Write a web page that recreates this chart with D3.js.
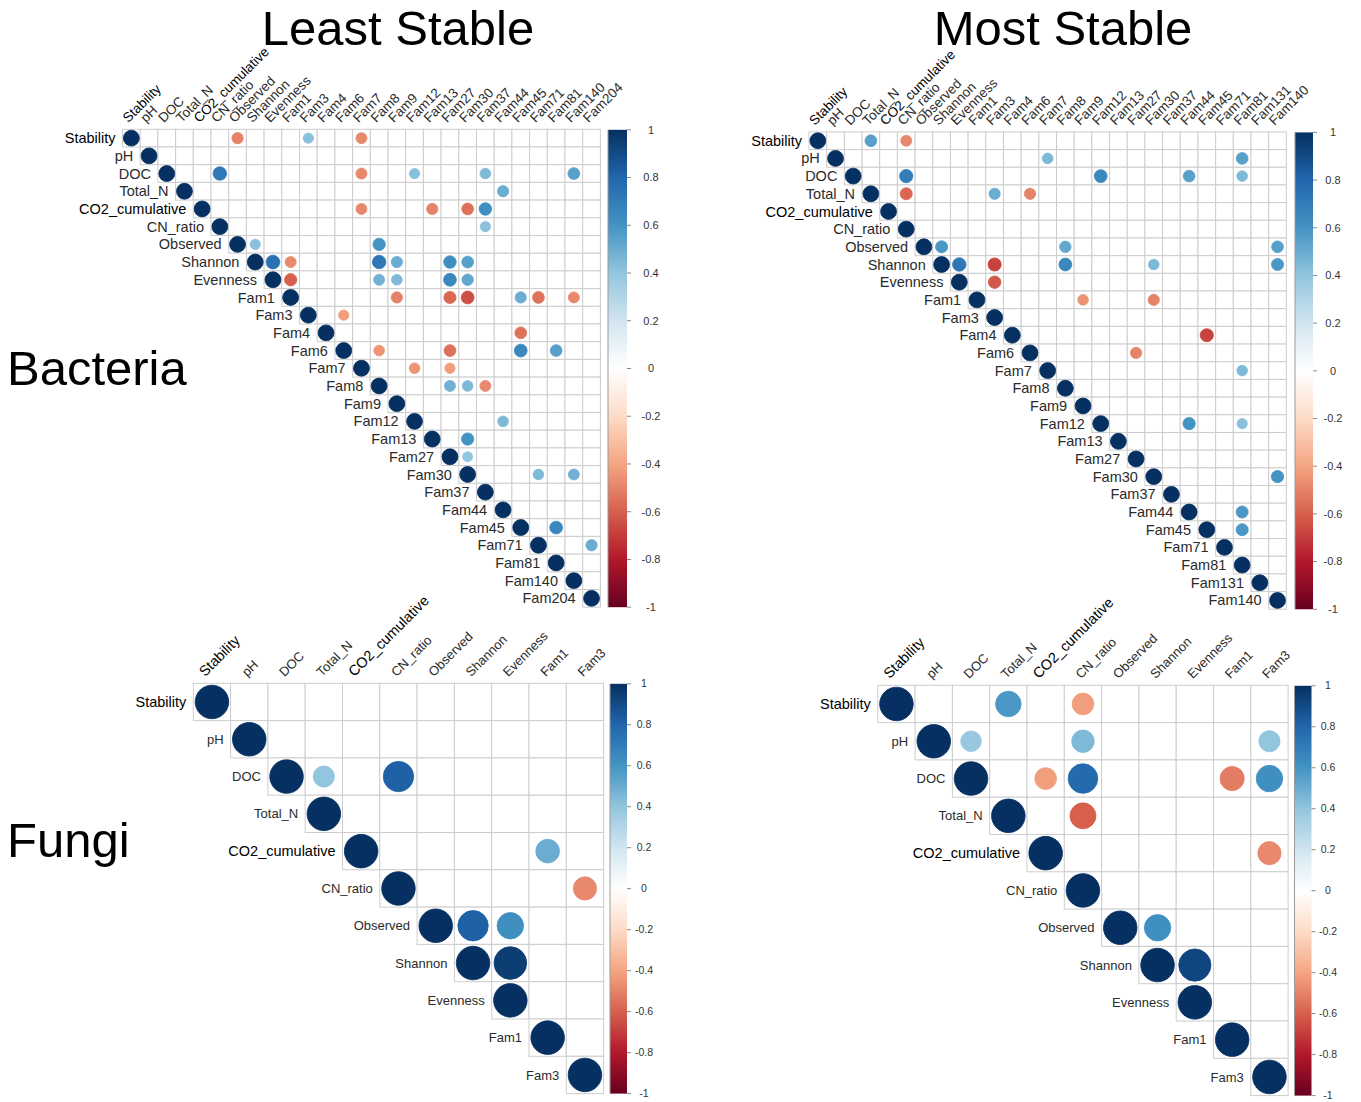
<!DOCTYPE html>
<html>
<head>
<meta charset="utf-8">
<script src="https://cdn.jsdelivr.net/npm/d3@7"></script>
<style>
  body { margin: 0; background: #fff; }
  svg { display: block; }
  text { font-family: "Liberation Sans", Arial, sans-serif; }
</style>
</head>
<body>
<svg id="chart" width="1361" height="1102"></svg>
<script>
// ---- variables shown on each matrix ----
const bacteriaLeastVars = ["Stability","pH","DOC","Total_N","CO2_cumulative","CN_ratio","Observed","Shannon","Evenness",
  "Fam1","Fam3","Fam4","Fam6","Fam7","Fam8","Fam9","Fam12","Fam13","Fam27","Fam30","Fam37","Fam44","Fam45","Fam71","Fam81","Fam140","Fam204"];
const bacteriaMostVars = ["Stability","pH","DOC","Total_N","CO2_cumulative","CN_ratio","Observed","Shannon","Evenness",
  "Fam1","Fam3","Fam4","Fam6","Fam7","Fam8","Fam9","Fam12","Fam13","Fam27","Fam30","Fam37","Fam44","Fam45","Fam71","Fam81","Fam131","Fam140"];
const fungiVars = ["Stability","pH","DOC","Total_N","CO2_cumulative","CN_ratio","Observed","Shannon","Evenness","Fam1","Fam3"];

// ---- significant pairwise correlations (upper triangle; blanks are non-significant) ----
const bacteriaLeastCor = [
  ["Stability","Observed",-0.5], ["Stability","Fam3",0.42], ["Stability","Fam7",-0.48],
  ["DOC","CN_ratio",0.72], ["DOC","Fam7",-0.48], ["DOC","Fam12",0.42], ["DOC","Fam37",0.45], ["DOC","Fam140",0.55],
  ["Total_N","Fam44",0.5],
  ["CO2_cumulative","Fam7",-0.48], ["CO2_cumulative","Fam13",-0.5], ["CO2_cumulative","Fam30",-0.55], ["CO2_cumulative","Fam37",0.62],
  ["CN_ratio","Fam37",0.42],
  ["Observed","Shannon",0.42], ["Observed","Fam8",0.6],
  ["Shannon","Evenness",0.75], ["Shannon","Fam1",-0.48], ["Shannon","Fam8",0.72], ["Shannon","Fam9",0.5],
  ["Shannon","Fam27",0.62], ["Shannon","Fam30",0.55],
  ["Evenness","Fam1",-0.6], ["Evenness","Fam8",0.48], ["Evenness","Fam9",0.45], ["Evenness","Fam27",0.65], ["Evenness","Fam30",0.52],
  ["Fam1","Fam9",-0.5], ["Fam1","Fam27",-0.58], ["Fam1","Fam30",-0.65], ["Fam1","Fam45",0.5], ["Fam1","Fam71",-0.55], ["Fam1","Fam140",-0.48],
  ["Fam3","Fam6",-0.42],
  ["Fam4","Fam45",-0.55],
  ["Fam6","Fam8",-0.45], ["Fam6","Fam27",-0.55], ["Fam6","Fam45",0.65], ["Fam6","Fam81",0.55],
  ["Fam7","Fam12",-0.45], ["Fam7","Fam27",-0.42],
  ["Fam8","Fam27",0.48], ["Fam8","Fam30",0.45], ["Fam8","Fam37",-0.48],
  ["Fam12","Fam44",0.45],
  ["Fam13","Fam30",0.6],
  ["Fam27","Fam30",0.4],
  ["Fam30","Fam71",0.45], ["Fam30","Fam140",0.48],
  ["Fam45","Fam81",0.65],
  ["Fam71","Fam204",0.5]
];
const bacteriaMostCor = [
  ["Stability","Total_N",0.55], ["Stability","CN_ratio",-0.48],
  ["pH","Fam7",0.45], ["pH","Fam81",0.55],
  ["DOC","CN_ratio",0.7], ["DOC","Fam12",0.65], ["DOC","Fam44",0.55], ["DOC","Fam81",0.45],
  ["Total_N","CN_ratio",-0.58], ["Total_N","Fam3",0.5], ["Total_N","Fam6",-0.5],
  ["Observed","Shannon",0.58], ["Observed","Fam8",0.52], ["Observed","Fam140",0.55],
  ["Shannon","Evenness",0.72], ["Shannon","Fam3",-0.68], ["Shannon","Fam8",0.65], ["Shannon","Fam30",0.45], ["Shannon","Fam140",0.58],
  ["Evenness","Fam3",-0.62],
  ["Fam1","Fam9",-0.45], ["Fam1","Fam30",-0.5],
  ["Fam4","Fam45",-0.68],
  ["Fam6","Fam27",-0.5],
  ["Fam7","Fam81",0.45],
  ["Fam12","Fam44",0.6], ["Fam12","Fam81",0.42],
  ["Fam30","Fam140",0.6],
  ["Fam44","Fam81",0.58],
  ["Fam45","Fam81",0.58]
];
const fungiLeastCor = [
  ["DOC","Total_N",0.4], ["DOC","CN_ratio",0.82],
  ["CO2_cumulative","Fam1",0.5],
  ["CN_ratio","Fam3",-0.48],
  ["Observed","Shannon",0.82], ["Observed","Evenness",0.62],
  ["Shannon","Evenness",0.95]
];
const fungiMostCor = [
  ["Stability","Total_N",0.58], ["Stability","CN_ratio",-0.42],
  ["pH","DOC",0.38], ["pH","CN_ratio",0.45], ["pH","Fam3",0.4],
  ["DOC","CO2_cumulative",-0.42], ["DOC","CN_ratio",0.78], ["DOC","Fam1",-0.52], ["DOC","Fam3",0.62],
  ["Total_N","CN_ratio",-0.6],
  ["CO2_cumulative","Fam3",-0.48],
  ["Observed","Shannon",0.62],
  ["Shannon","Evenness",0.92]
];

// ---- colour legend ----
const corrColours = ["#67001F","#B2182B","#D6604D","#F4A582","#FDDBC7","#FFFFFF","#D1E5F0","#92C5DE","#4393C3","#2166AC","#053061"];
const colourStops = [-1,-0.8,-0.6,-0.4,-0.2,0,0.2,0.4,0.6,0.8,1];
const legendTicks = [1,0.8,0.6,0.4,0.2,0,-0.2,-0.4,-0.6,-0.8,-1];
const legendTickLabels = ["1","0.8","0.6","0.4","0.2","0","-0.2","-0.4","-0.6","-0.8","-1"];
const emphasised = ["Stability","CO2_cumulative"];

const colour = d3.scaleLinear().domain(colourStops).range(corrColours).interpolate(d3.interpolateRgb);

const svg = d3.select("#chart");

// vertical gradient shared by all colour bars
const grad = svg.append("defs").append("linearGradient")
  .attr("id","rdbu").attr("x1",0).attr("y1",1).attr("x2",0).attr("y2",0);
grad.selectAll("stop").data(colourStops).join("stop")
  .attr("offset", d => (d + 1) / 2)
  .attr("stop-color", d => colour(d));

// ---- layout of the four matrices ----
const panels = [
  { vars: bacteriaLeastVars, cor: bacteriaLeastCor, left: 122.5, top: 129.3, cell: 17.7,
    font: 14.5, emphFont: 14.5, colFont: 13.5, colEmphFont: 13.5, colDx: -3,
    barX: 608, barW: 19, labelX: 651, barFont: 11 },
  { vars: bacteriaMostVars, cor: bacteriaMostCor, left: 809, top: 131.9, cell: 17.68,
    font: 14.5, emphFont: 14.5, colFont: 13.5, colEmphFont: 13.5, colDx: -3,
    barX: 1295, barW: 18, labelX: 1333, barFont: 11 },
  { vars: fungiVars, cor: fungiLeastCor, left: 193.3, top: 683.3, cell: 37.3,
    font: 13, emphFont: 14.5, colFont: 13, colEmphFont: 14.5, colDx: -2,
    barX: 610, barW: 17, labelX: 644, barFont: 10.5 },
  { vars: fungiVars, cor: fungiMostCor, left: 877.8, top: 685.3, cell: 37.3,
    font: 13, emphFont: 14.5, colFont: 13, colEmphFont: 14.5, colDx: -2,
    barX: 1294.5, barW: 17, labelX: 1328, barFont: 10.5 }
];

function drawMatrix(p) {
  const n = p.vars.length;
  const x = d3.scaleBand().domain(p.vars).range([p.left, p.left + n * p.cell]);
  const y = d3.scaleBand().domain(p.vars).range([p.top, p.top + n * p.cell]);
  const radius = d3.scaleSqrt().domain([0, 1]).range([0, 0.45 * p.cell]);
  const g = svg.append("g");

  // upper-triangle cells
  const cells = [];
  p.vars.forEach((rv, i) => p.vars.forEach((cv, j) => { if (j >= i) cells.push({ row: rv, col: cv }); }));
  g.append("g").selectAll("rect").data(cells).join("rect")
    .attr("x", d => x(d.col)).attr("y", d => y(d.row))
    .attr("width", x.bandwidth()).attr("height", y.bandwidth())
    .attr("fill", "#fff").attr("stroke", "#cdcdcd").attr("stroke-width", 1);

  // circles: diagonal plus significant pairs
  const marks = p.vars.map(v => ({ row: v, col: v, value: 1 }))
    .concat(p.cor.map(([a, b, v]) => ({ row: a, col: b, value: v })));
  g.append("g").selectAll("circle").data(marks).join("circle")
    .attr("cx", d => x(d.col) + x.bandwidth() / 2)
    .attr("cy", d => y(d.row) + y.bandwidth() / 2)
    .attr("r", d => radius(Math.abs(d.value)))
    .attr("fill", d => colour(d.value))
    .attr("stroke", d => colour(d.value)).attr("stroke-width", 0.8);

  const isEmph = d => emphasised.includes(d);

  // row labels, sitting just left of each diagonal cell
  g.append("g").selectAll("text").data(p.vars).join("text")
    .attr("x", d => x(d) - 7)
    .attr("y", d => y(d) + y.bandwidth() / 2)
    .attr("dy", "0.35em")
    .attr("text-anchor", "end")
    .attr("font-size", d => isEmph(d) ? p.emphFont : p.font)
    .attr("fill", d => isEmph(d) ? "#000" : "#2b2b2b")
    .text(d => d);

  // column labels, rotated 45 degrees above the grid
  g.append("g").selectAll("text").data(p.vars).join("text")
    .attr("transform", d => {
      const dx = isEmph(d) && p.colEmphFont > p.colFont ? p.colDx - 5 : p.colDx;
      return `translate(${x(d) + x.bandwidth() / 2 + dx},${p.top - 6}) rotate(-45)`;
    })
    .attr("text-anchor", "start")
    .attr("font-size", d => isEmph(d) ? p.colEmphFont : p.colFont)
    .attr("fill", d => isEmph(d) ? "#000" : "#2b2b2b")
    .text(d => d);

  // colour bar
  const barTop = p.top + 0.5, barBottom = p.top + n * p.cell;
  const cy = d3.scaleLinear().domain([-1, 1]).range([barBottom, barTop]);
  const bar = g.append("g");
  bar.append("rect")
    .attr("x", p.barX).attr("y", barTop)
    .attr("width", p.barW).attr("height", barBottom - barTop)
    .attr("fill", "url(#rdbu)");
  bar.append("line")
    .attr("x1", p.barX).attr("x2", p.barX).attr("y1", barTop).attr("y2", barBottom)
    .attr("stroke", "#9a9a9a").attr("stroke-width", 1);
  bar.selectAll("line.tick").data(legendTicks).join("line").attr("class", "tick")
    .attr("x1", p.barX + p.barW).attr("x2", p.barX + p.barW + 4)
    .attr("y1", d => cy(d)).attr("y2", d => cy(d))
    .attr("stroke", "#888").attr("stroke-width", 1);
  bar.selectAll("text").data(legendTicks).join("text")
    .attr("x", p.labelX).attr("y", d => cy(d)).attr("dy", "0.35em")
    .attr("text-anchor", "middle")
    .attr("font-size", p.barFont).attr("fill", "#333")
    .text((d, i) => legendTickLabels[i]);
}

panels.forEach(drawMatrix);

// ---- headings ----
const headings = [
  { text: "Least Stable", x: 398, y: 45, anchor: "middle" },
  { text: "Most Stable", x: 1063, y: 45, anchor: "middle" },
  { text: "Bacteria", x: 7, y: 385, anchor: "start" },
  { text: "Fungi", x: 7, y: 857, anchor: "start" }
];
svg.append("g").selectAll("text").data(headings).join("text")
  .attr("x", d => d.x).attr("y", d => d.y)
  .attr("text-anchor", d => d.anchor)
  .attr("font-size", 49).attr("fill", "#000")
  .text(d => d.text);
</script>
</body>
</html>
